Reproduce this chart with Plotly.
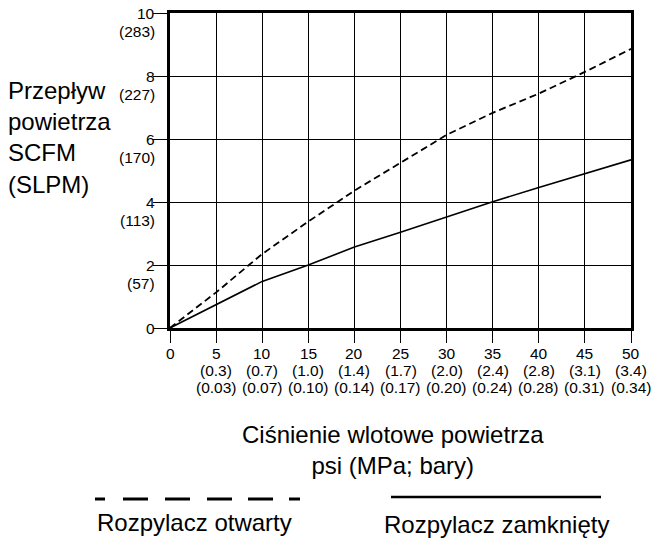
import plotly.graph_objects as go

# Inlet pressure (psi) and air flow (SCFM)
psi = [0, 5, 10, 15, 20, 25, 30, 35, 40, 45, 50]
flow_open = [0, 1.13, 2.35, 3.38, 4.36, 5.25, 6.13, 6.83, 7.44, 8.13, 8.86]
flow_closed = [0, 0.74, 1.48, 2.0, 2.57, 3.04, 3.53, 4.01, 4.46, 4.91, 5.34]

# Tick labels
x_ticks = [0, 5, 10, 15, 20, 25, 30, 35, 40, 45, 50]
mpa_labels = ["", "0.3", "0.7", "1.0", "1.4", "1.7", "2.0", "2.4", "2.8", "3.1", "3.4"]
bar_labels = ["", "0.03", "0.07", "0.10", "0.14", "0.17", "0.20", "0.24", "0.28", "0.31", "0.34"]
y_ticks = [0, 2, 4, 6, 8, 10]
slpm_labels = ["", "57", "113", "170", "227", "283"]

FONT = "Liberation Sans, Arial, Helvetica, sans-serif"
TICK_FONT = dict(size=15.5, color="black", family=FONT)
TITLE_FONT = dict(size=24, color="black", family=FONT)

# plot area geometry (pixels) used to place text outside the axes
W, H = 651, 538
L, R, T, B = 170, 20, 13, 210
PW, PH = W - L - R, H - T - B


def px(x):
    return (x - L) / PW


def py(y):
    return (H - B - y) / PH


fig = go.Figure()
fig.add_trace(go.Scatter(x=psi, y=flow_open, mode="lines",
                         line=dict(color="black", width=1.8, dash="7px,4px"),
                         showlegend=False, hoverinfo="skip"))
fig.add_trace(go.Scatter(x=psi, y=flow_closed, mode="lines",
                         line=dict(color="black", width=1.6),
                         showlegend=False, hoverinfo="skip"))

annotations = []
# Y tick labels: SCFM value at the tick, SLPM value underneath
for v, s in zip(y_ticks, slpm_labels):
    annotations.append(dict(x=0, xref="paper", y=v, yref="y", text=str(v),
                            showarrow=False, xanchor="right", yanchor="middle",
                            xshift=-13, font=TICK_FONT))
    if s:
        annotations.append(dict(x=0, xref="paper", y=v, yref="y", text=f"({s})",
                                showarrow=False, xanchor="right", yanchor="middle",
                                xshift=-13, yshift=-18, font=TICK_FONT))

# X tick labels: psi, then MPa and bar rows
for v, m, b in zip(x_ticks, mpa_labels, bar_labels):
    annotations.append(dict(x=v, xref="x", y=0, yref="paper", text=str(v),
                            showarrow=False, xanchor="center", yanchor="middle",
                            yshift=-25, font=TICK_FONT))
    if m:
        annotations.append(dict(x=v, xref="x", y=0, yref="paper", text=f"({m})",
                                showarrow=False, xanchor="center", yanchor="middle",
                                yshift=-42, font=TICK_FONT))
        annotations.append(dict(x=v, xref="x", y=0, yref="paper", text=f"({b})",
                                showarrow=False, xanchor="center", yanchor="middle",
                                yshift=-59, font=TICK_FONT))

# Axis titles
annotations.append(dict(x=px(6), xref="paper", y=py(137), yref="paper",
                        text="Przepływ<br>powietrza<br>SCFM<br>(SLPM)",
                        showarrow=False, xanchor="left", yanchor="middle", align="left",
                        font=TITLE_FONT))
annotations.append(dict(x=px(393), xref="paper", y=py(450), yref="paper",
                        text="Ciśnienie wlotowe powietrza<br>psi (MPa; bary)",
                        showarrow=False, xanchor="center", yanchor="middle", align="center",
                        font=TITLE_FONT))
# Legend labels
annotations.append(dict(x=px(194), xref="paper", y=py(522), yref="paper",
                        text="Rozpylacz otwarty", showarrow=False,
                        xanchor="center", yanchor="middle", font=TITLE_FONT))
annotations.append(dict(x=px(496), xref="paper", y=py(524), yref="paper",
                        text="Rozpylacz zamknięty", showarrow=False,
                        xanchor="center", yanchor="middle", font=TITLE_FONT))

shapes = [
    # legend samples
    dict(type="line", xref="paper", yref="paper",
         x0=px(95), x1=px(300), y0=py(499), y1=py(499),
         line=dict(color="black", width=3,
                   dash="10px,18px,25px,17px,25px,17px,25px,16px,25px,16px,11px")),
    dict(type="line", xref="paper", yref="paper",
         x0=px(391), x1=px(601), y0=py(497), y1=py(497),
         line=dict(color="black", width=2.5)),
]

fig.update_layout(
    width=W, height=H,
    margin=dict(l=L, r=R, t=T, b=B, autoexpand=False),
    paper_bgcolor="white", plot_bgcolor="white",
    font=dict(family=FONT, color="black"),
    annotations=annotations,
    shapes=shapes,
    showlegend=False,
)
fig.update_xaxes(range=[0, 50], tickvals=x_ticks, showticklabels=False,
                 ticks="outside", ticklen=12, tickwidth=1, tickcolor="black",
                 showgrid=True, gridcolor="black", gridwidth=1,
                 showline=True, linecolor="black", linewidth=3, mirror=True,
                 zeroline=False, fixedrange=True, automargin=False)
fig.update_yaxes(range=[0, 10], tickvals=y_ticks, showticklabels=False,
                 ticks="outside", ticklen=14, tickwidth=1, tickcolor="black",
                 showgrid=True, gridcolor="black", gridwidth=1,
                 showline=True, linecolor="black", linewidth=3, mirror=True,
                 zeroline=False, fixedrange=True, automargin=False)

fig.write_html("out.html", config={"displayModeBar": False})
